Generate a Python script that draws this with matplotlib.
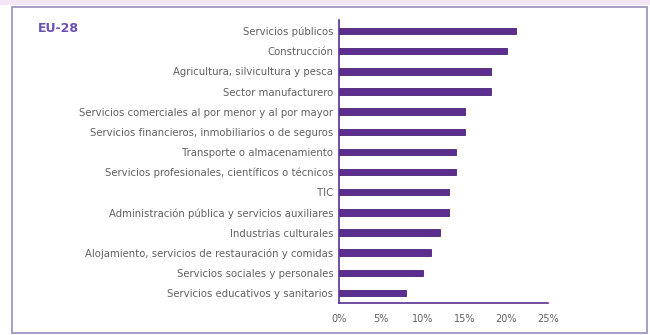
import matplotlib.pyplot as plt
from matplotlib.patches import Rectangle

sectores = [
    "Servicios públicos",
    "Construcción",
    "Agricultura, silvicultura y pesca",
    "Sector manufacturero",
    "Servicios comerciales al por menor y al por mayor",
    "Servicios financieros, inmobiliarios o de seguros",
    "Transporte o almacenamiento",
    "Servicios profesionales, científicos o técnicos",
    "TIC",
    "Administración pública y servicios auxiliares",
    "Industrias culturales",
    "Alojamiento, servicios de restauración y comidas",
    "Servicios sociales y personales",
    "Servicios educativos y sanitarios",
]
valores = [21.2, 20.1, 18.2, 18.2, 15.1, 15.1, 14.0, 14.0, 13.1, 13.1, 12.1, 11.0, 10.0, 8.0]
ticks_x = [0, 5, 10, 15, 20, 25]
tick_labels = ["0%", "5%", "10%", "15%", "20%", "25%"]

morado = "#5b2e90"
gris = "#606060"

fig = plt.figure(figsize=(6.5, 3.35), dpi=100)

# marco exterior
fig.patches.append(Rectangle((12 / 650, 2 / 335), 635 / 650, 326 / 335,
                             transform=fig.transFigure, fill=False,
                             edgecolor="#a195c0", linewidth=1.3))
fig.patches.append(Rectangle((0, 330 / 335), 1, 5 / 335,
                             transform=fig.transFigure, facecolor="#f3e6f7",
                             edgecolor="none"))

ax = fig.add_axes([339 / 650, 32 / 335, 209 / 650, 283 / 335])
y = list(range(len(sectores)))
ax.barh(y, valores, height=0.32, color=morado, edgecolor="#4a2378", linewidth=0.6)
ax.set_ylim(len(sectores) - 0.5, -0.55)
ax.set_xlim(0, 25)
ax.set_yticks(y)
ax.set_yticklabels(sectores, fontsize=7.3, color=gris)
ax.set_xticks(ticks_x)
ax.set_xticklabels(tick_labels, fontsize=7, color=gris)
ax.tick_params(length=0, pad=4)
ax.tick_params(axis="x", pad=8)
for s in ["top", "right"]:
    ax.spines[s].set_visible(False)
ax.spines["left"].set_color(morado)
ax.spines["bottom"].set_color(morado)
ax.spines["left"].set_linewidth(1.2)
ax.spines["bottom"].set_linewidth(1.2)

fig.text(38 / 650, 1 - 29 / 335, "EU-28", fontsize=9, fontweight="bold",
         color="#6b4fb3", va="center", ha="left")

fig.savefig("out.png", dpi=100)
